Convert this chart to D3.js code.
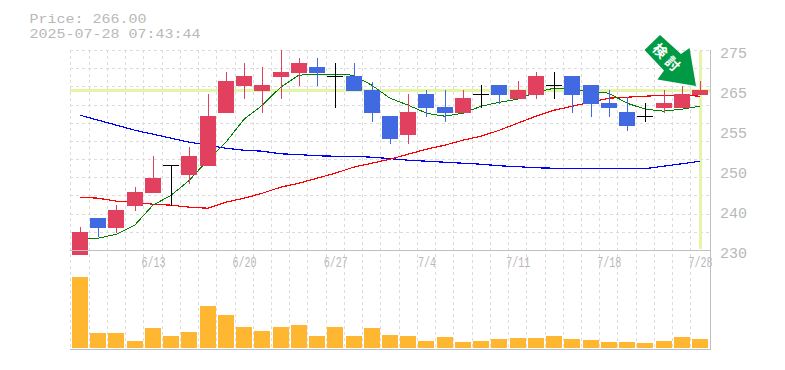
<!DOCTYPE html>
<html>
<head>
<meta charset="utf-8">
<script src="https://cdn.jsdelivr.net/npm/d3@7"></script>
<style>
  html, body { margin: 0; padding: 0; background: #fff; overflow: hidden; }
  text { font-family: 'Liberation Mono', monospace; fill: #b8b8b8; }
</style>
</head>
<body>
<div id="root"></div>
<script>
const dates = [
  '6/9', '6/10', '6/11', '6/12', '6/13', '6/16', '6/17', '6/18', '6/19', '6/20',
  '6/23', '6/24', '6/25', '6/26', '6/27', '6/30', '7/1', '7/2', '7/3', '7/4',
  '7/7', '7/8', '7/9', '7/10', '7/11', '7/14', '7/15', '7/16', '7/17', '7/18',
  '7/22', '7/23', '7/24', '7/25', '7/28',
];
const opens = [
  224.75, 234, 231.5, 237, 240.25, 247.25, 244.75, 247, 260.25, 267,
  265.75, 269.25, 270.25, 271.75, 269.5, 269.5, 266, 259.5, 254.75, 265,
  261.75, 260.25, 265, 267.25, 263.75, 264.75, 267.25, 269.5, 267.25, 262.75,
  260.5, 259.5, 261.5, 261.5, 264.75,
];
const closes = [
  230.5, 231.5, 236, 240.5, 244, 247.25, 249.5, 259.5, 268.25, 269.5,
  267.25, 270.5, 272.75, 270.25, 269.5, 265.75, 260.25, 253.75, 260.5, 261.5,
  260.25, 264, 265, 264.75, 266, 269.5, 267.25, 264.75, 262.5, 261.5,
  257, 259.5, 262.75, 265, 266,
];
const highs = [
  231.75, 234, 237.25, 241.75, 249.5, 247.25, 251.75, 265, 270.5, 272.75,
  271.75, 276, 274, 274, 272.75, 272.75, 268, 259.5, 265, 266,
  266, 266, 267.25, 267.25, 268.25, 270.5, 270.5, 269.5, 267.25, 266,
  264.25, 262.75, 266, 267, 268.25,
];
const lows = [
  224.75, 229.25, 230.25, 235.75, 240.25, 237, 242.5, 247, 260.25, 263.75,
  260.25, 263.75, 267, 267, 261.5, 265.75, 258, 252.5, 252.5, 259.25,
  258, 260.25, 261.5, 262.5, 263.75, 263.75, 263.75, 260.25, 259.25, 259.25,
  255.75, 258, 260.25, 261.5, 264.75,
];
const volume = [
  71, 15, 15, 7, 20, 12, 16, 42, 33, 21, 17, 21, 23, 12, 21, 12, 20, 13,
  12, 7, 11, 6, 7, 9, 10, 10, 12, 9, 8, 6, 6, 5, 7, 11, 9,
];
const maShort = [
  229, 229, 230, 232.25, 237.25, 239.75, 243.5, 248.5, 253, 258.75,
  262.25, 266.75, 269.75, 270, 270, 269.75, 267.25, 264, 262.25, 260.25,
  259.5, 260.25, 262, 263, 263.75, 265.5, 266.5, 266.25, 265.75, 265.25,
  262.75, 261.25, 260.75, 261.25, 262,
];
const maMid = [
  239.25, 239, 238.25, 238, 237.5, 237.25, 236.75, 236.5, 238, 239,
  240.25, 241.75, 242.75, 244, 245.25, 246.75, 247.75, 248.75, 250, 251.25,
  252.25, 253.5, 254.5, 256, 257.75, 259.5, 261, 262, 263, 264,
  264.25, 264.5, 264.75, 264.75, 264.5,
];
const maLong = [
  259.75, 258.5, 257.25, 256, 255, 254, 253, 252.25, 251.5, 251,
  250.75, 250.1, 249.9, 249.6, 249.5, 249.5, 249.25, 248.9, 248.5, 248.25,
  248, 247.75, 247.5, 247.1, 246.9, 246.6, 246.5, 246.5, 246.5, 246.5,
  246.5, 246.4, 247, 247.6, 248.25,
];
const priceTicks = [ 275, 265, 255, 245, 235, 225, ];
const priceLabels = [ '275', '265', '255', '250', '240', '230', ];
const dateTicks = [ '6/13', '6/20', '6/27', '7/4', '7/11', '7/18', '7/28', ];
const lastPrice = 266;
const titleLines = [ 'Price: 266.00', '2025-07-28 07:43:44', ];
const badge = '検討';

const W = 785;
const H = 370;
const plotLeft = 70;
const plotRight = 710;
const plotTop = 50;
const plotMid = 250;
const plotBottom = 350;
const candleW = 16;
const GRID = '#dcdcdc';
const AXIS = '#c0c0c0';
const UP = '#e2405f';
const DOWN = '#4169e1';
const NEAR = '#e4f5a9';

const x = d3.scalePoint().domain(dates).range([ 80, 700, ]);
const y = d3.scaleLinear().domain([ 226, 276, ]).range([ plotMid, plotTop, ]);
const yVol = d3.scaleLinear().domain([ 0, 98, ]).range([ 348, 250, ]);
const snap = v => Math.round(v) + 0.5;

const svg = d3.select('#root').append('svg')
  .attr('width', W)
  .attr('height', H)
  .style('display', 'block');

// grid
const grid = svg.append('g')
  .attr('stroke', GRID)
  .attr('stroke-dasharray', '3,3')
  .attr('shape-rendering', 'crispEdges');

grid.selectAll('.v')
  .data(d3.range(dates.length))
  .enter()
  .append('line')
  .attr('x1', i => snap(x(dates[i]) - 9.6))
  .attr('x2', i => snap(x(dates[i]) - 9.6))
  .attr('y1', plotTop)
  .attr('y2', plotBottom);

grid.selectAll('.h')
  .data(d3.range(11))
  .enter()
  .append('line')
  .attr('x1', plotLeft)
  .attr('x2', plotRight)
  .attr('y1', i => snap(plotTop + i * (plotMid - plotTop) / 11))
  .attr('y2', i => snap(plotTop + i * (plotMid - plotTop) / 11));

// last price markers
svg.append('line')
  .attr('x1', plotLeft)
  .attr('x2', plotRight)
  .attr('y1', y(lastPrice) + 0.5)
  .attr('y2', y(lastPrice) + 0.5)
  .attr('stroke', NEAR)
  .attr('stroke-width', 3);

svg.append('line')
  .attr('x1', x('7/28') + 0.5)
  .attr('x2', x('7/28') + 0.5)
  .attr('y1', plotTop + 1)
  .attr('y2', plotMid - 1)
  .attr('stroke', NEAR)
  .attr('stroke-width', 3);

// moving averages, nudged off the pixel boundary so flat runs don't drop out
const maLine = d3.line()
  .x((d, i) => x(dates[i]))
  .y(d => y(d));

[
  { values: maLong, color: '#0000ff', width: 1.2, },
  { values: maMid, color: '#ff0000', width: 1.2, },
  { values: maShort, color: '#008000', width: 1, },
].forEach((s) => {
  svg.append('path')
    .attr('d', maLine(s.values))
    .attr('transform', 'translate(0,0.2)')
    .attr('fill', 'none')
    .attr('stroke', s.color)
    .attr('stroke-width', s.width)
    .attr('shape-rendering', 'crispEdges');
});

// candles
const colorOf = i => closes[i] > opens[i] ? UP : closes[i] < opens[i] ? DOWN : '#000';
const candle = svg.selectAll('.candle')
  .data(d3.range(dates.length))
  .enter()
  .append('g')
  .attr('shape-rendering', 'crispEdges');

candle.append('line')
  .attr('x1', i => x(dates[i]) + 0.5)
  .attr('x2', i => x(dates[i]) + 0.5)
  .attr('y1', i => y(highs[i]))
  .attr('y2', i => y(lows[i]))
  .attr('stroke', colorOf);

candle.append('rect')
  .attr('x', i => x(dates[i]) - candleW / 2)
  .attr('y', i => y(Math.max(opens[i], closes[i])))
  .attr('width', candleW)
  .attr('height', i => Math.abs(y(opens[i]) - y(closes[i])) || 1)
  .attr('fill', colorOf);

// volume
svg.selectAll('.vol')
  .data(volume)
  .enter()
  .append('rect')
  .attr('x', (d, i) => x(dates[i]) - candleW / 2)
  .attr('y', d => yVol(d))
  .attr('width', candleW)
  .attr('height', d => yVol(0) - yVol(d))
  .attr('fill', '#ffb732')
  .attr('shape-rendering', 'crispEdges');

// axes
const priceAxis = d3.axisRight(y)
  .tickValues(priceTicks)
  .tickSize(0)
  .tickPadding(10)
  .tickFormat((d, i) => priceLabels[i]);

svg.append('g')
  .attr('transform', `translate(${plotRight},-1)`)
  .call(priceAxis)
  .call(g => g.select('.domain').remove())
  .selectAll('text')
  .attr('fill', null)
  .style('font-size', '15px');

const dateAxis = d3.axisBottom(x)
  .tickValues(dateTicks)
  .tickSize(0)
  .tickPadding(6);

svg.append('g')
  .attr('transform', `translate(0,${plotMid})`)
  .call(dateAxis)
  .call(g => g.select('.domain').remove())
  .selectAll('text')
  .attr('fill', null)
  .style('font-size', '15px')
  .attr('textLength', d => d.length * 6)
  .attr('lengthAdjust', 'spacingAndGlyphs');

// frame
const frame = svg.append('g')
  .attr('stroke', AXIS)
  .attr('shape-rendering', 'crispEdges');

frame.append('line').attr('x1', plotLeft).attr('x2', plotRight).attr('y1', plotMid + 0.5).attr('y2', plotMid + 0.5);
frame.append('line').attr('x1', plotLeft).attr('x2', plotRight).attr('y1', plotBottom - 0.5).attr('y2', plotBottom - 0.5);
frame.append('line').attr('x1', plotRight + 0.5).attr('x2', plotRight + 0.5).attr('y1', plotTop).attr('y2', plotBottom);

// title
svg.selectAll('.title')
  .data(titleLines)
  .enter()
  .append('text')
  .attr('x', 29.5)
  .attr('y', (d, i) => 23 + i * 15)
  .attr('textLength', d => d.length * 9)
  .attr('lengthAdjust', 'spacingAndGlyphs')
  .style('font-size', '13.2px')
  .text(d => d);

// arrow badge
svg.append('path')
  .attr('d', 'M660,35 L644.5,50 L664,70.5 L657.5,79.5 L696,86 L689.5,48 L681,54 Z')
  .attr('fill', '#009944');

svg.selectAll('.badge')
  .data(badge.split(''))
  .enter()
  .append('text')
  .attr('transform', (d, i) => `translate(${660 + i * 12.5},${51 + i * 13}) rotate(45)`)
  .attr('text-anchor', 'middle')
  .attr('dy', '0.36em')
  .style('font-family', "'Noto Sans CJK JP', sans-serif")
  .style('font-weight', 'bold')
  .style('font-size', '14px')
  .style('fill', '#fff')
  .text(d => d);
</script>
</body>
</html>
